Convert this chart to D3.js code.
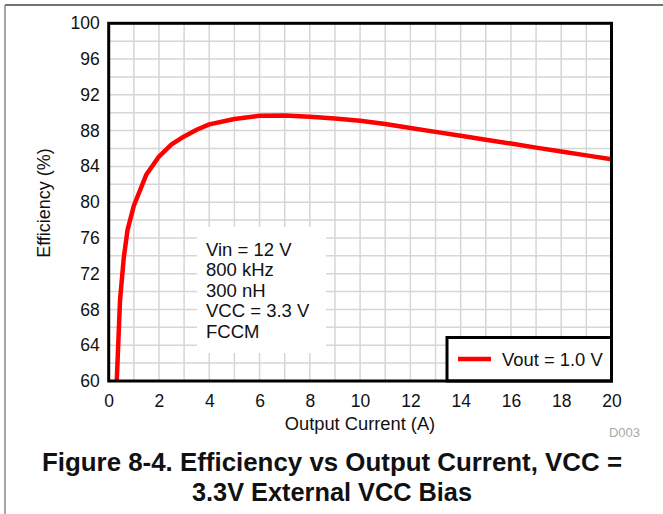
<!DOCTYPE html>
<html>
<head>
<meta charset="utf-8">
<script src="https://cdn.jsdelivr.net/npm/d3@7"></script>
<style>
  body { margin: 0; background: #fff; }
  svg { display: block; font-family: "Liberation Sans", Arial, Helvetica, sans-serif; }
</style>
</head>
<body>
<svg id="canvas" width="663" height="514"></svg>
<script>
// data
let currents = [0.32, 0.45, 0.6, 0.75, 1.0, 1.5, 2.0, 2.5, 3.0, 3.5, 4.0, 5.0, 6.0, 7.0, 8.0, 9.0, 10.0, 11.0, 12.0, 13.0, 14.0, 15.0, 16.0, 17.0, 18.0, 19.0, 20.0]
let efficiency = [60, 69, 73.8, 76.9, 79.6, 83.1, 85.1, 86.45, 87.35, 88.1, 88.7, 89.3, 89.65, 89.7, 89.55, 89.35, 89.1, 88.74, 88.3, 87.86, 87.42, 86.98, 86.55, 86.1, 85.67, 85.23, 84.8]
let xTicks = [0, 2, 4, 6, 8, 10, 12, 14, 16, 18, 20]
let yTicks = [60, 64, 68, 72, 76, 80, 84, 88, 92, 96, 100]
let conditions = ['Vin = 12 V', '800 kHz', '300 nH', 'VCC = 3.3 V', 'FCCM']
let seriesName = 'Vout = 1.0 V'

let canvas = d3.select('#canvas')

let plotLeft = 108.7, plotRight = 611.5, plotTop = 23.3, plotBottom = 381

let xScale = d3.scaleLinear().domain([0, 20]).range([plotLeft, plotRight])
let yScale = d3.scaleLinear().domain([60, 100]).range([plotBottom, plotTop])

// page border lines
canvas.append('line')
    .attr('x1', 5).attr('x2', 663).attr('y1', 5).attr('y2', 5)
    .attr('stroke', '#444').attr('stroke-width', 1.5)
canvas.append('line')
    .attr('x1', 5).attr('x2', 5).attr('y1', 5).attr('y2', 514)
    .attr('stroke', '#888').attr('stroke-width', 1.5)

// grid
let grid = canvas.append('g')
grid.selectAll('.vgrid')
    .data(d3.range(1, 20))
    .enter()
    .append('line')
    .attr('x1', (d) => xScale(d)).attr('x2', (d) => xScale(d))
    .attr('y1', plotTop).attr('y2', plotBottom)
    .attr('stroke', '#d6d6d6').attr('stroke-width', 1.5)
grid.selectAll('.hgrid')
    .data(d3.range(62, 100, 2))
    .enter()
    .append('line')
    .attr('x1', plotLeft).attr('x2', plotRight)
    .attr('y1', (d) => yScale(d)).attr('y2', (d) => yScale(d))
    .attr('stroke', '#d6d6d6').attr('stroke-width', 1.5)

// condition box
canvas.append('rect')
    .attr('x', 197).attr('y', 227)
    .attr('width', 129).attr('height', 126)
    .attr('fill', '#fff')
canvas.append('g')
    .selectAll('text')
    .data(conditions)
    .enter()
    .append('text')
    .attr('x', 206)
    .attr('y', (d, i) => 256 + i * 20.4)
    .attr('font-size', 18.5)
    .attr('fill', '#111')
    .text((d) => d)

// curve
canvas.append('clipPath').attr('id', 'clip')
    .append('rect')
    .attr('x', plotLeft).attr('y', plotTop)
    .attr('width', plotRight - plotLeft).attr('height', plotBottom - plotTop)

let points = currents.map((c, i) => [c, efficiency[i]])
let line = d3.line()
    .x((d) => xScale(d[0]))
    .y((d) => yScale(d[1]))

canvas.append('path')
    .datum(points)
    .attr('clip-path', 'url(#clip)')
    .attr('d', line)
    .attr('fill', 'none')
    .attr('stroke', '#ff0000')
    .attr('stroke-width', 4.5)
    .attr('stroke-linejoin', 'round')

// legend
canvas.append('rect')
    .attr('x', 447).attr('y', 337.5)
    .attr('width', plotRight - 447).attr('height', plotBottom - 337.5)
    .attr('fill', '#fff').attr('stroke', '#000').attr('stroke-width', 3)
canvas.append('line')
    .attr('x1', 458).attr('x2', 491).attr('y1', 359).attr('y2', 359)
    .attr('stroke', '#ff0000').attr('stroke-width', 4.5)
canvas.append('text')
    .attr('x', 502).attr('y', 365.5)
    .attr('font-size', 18.4)
    .attr('fill', '#111')
    .text(seriesName)

// frame
canvas.append('rect')
    .attr('x', plotLeft).attr('y', plotTop)
    .attr('width', plotRight - plotLeft).attr('height', plotBottom - plotTop)
    .attr('fill', 'none').attr('stroke', '#000').attr('stroke-width', 3)

// axes
let xAxis = d3.axisBottom(xScale).tickValues(xTicks).tickSize(0).tickPadding(14)
let yAxis = d3.axisLeft(yScale).tickValues(yTicks).tickSize(0).tickPadding(9)

let xg = canvas.append('g')
    .attr('transform', 'translate(0,' + plotBottom + ')')
    .call(xAxis)
let yg = canvas.append('g')
    .attr('transform', 'translate(' + plotLeft + ',0)')
    .call(yAxis)

xg.select('.domain').remove()
yg.select('.domain').remove()
canvas.selectAll('.tick text')
    .attr('font-size', 17.5)
    .attr('font-family', '"Liberation Sans", Arial, sans-serif')
    .attr('fill', '#111')

// axis titles
canvas.append('text')
    .attr('x', 360).attr('y', 430)
    .attr('text-anchor', 'middle')
    .attr('font-size', 18.3)
    .attr('fill', '#111')
    .text('Output Current (A)')
canvas.append('text')
    .attr('transform', 'translate(50,203) rotate(-90)')
    .attr('text-anchor', 'middle')
    .attr('font-size', 18)
    .attr('fill', '#111')
    .text('Efficiency (%)')

canvas.append('text')
    .attr('x', 640).attr('y', 437)
    .attr('text-anchor', 'end')
    .attr('font-size', 13)
    .attr('fill', '#aaa')
    .text('D003')

// caption
let caption = ['Figure 8-4. Efficiency vs Output Current, VCC =', '3.3V External VCC Bias']
let captionWidths = [580, 280]
canvas.append('g')
    .selectAll('text')
    .data(caption)
    .enter()
    .append('text')
    .attr('x', 332)
    .attr('y', (d, i) => 471 + i * 30)
    .attr('text-anchor', 'middle')
    .attr('font-size', 25)
    .attr('font-weight', 'bold')
    .attr('fill', '#111')
    .attr('textLength', (d, i) => captionWidths[i])
    .attr('lengthAdjust', 'spacingAndGlyphs')
    .text((d) => d)
</script>
</body>
</html>
